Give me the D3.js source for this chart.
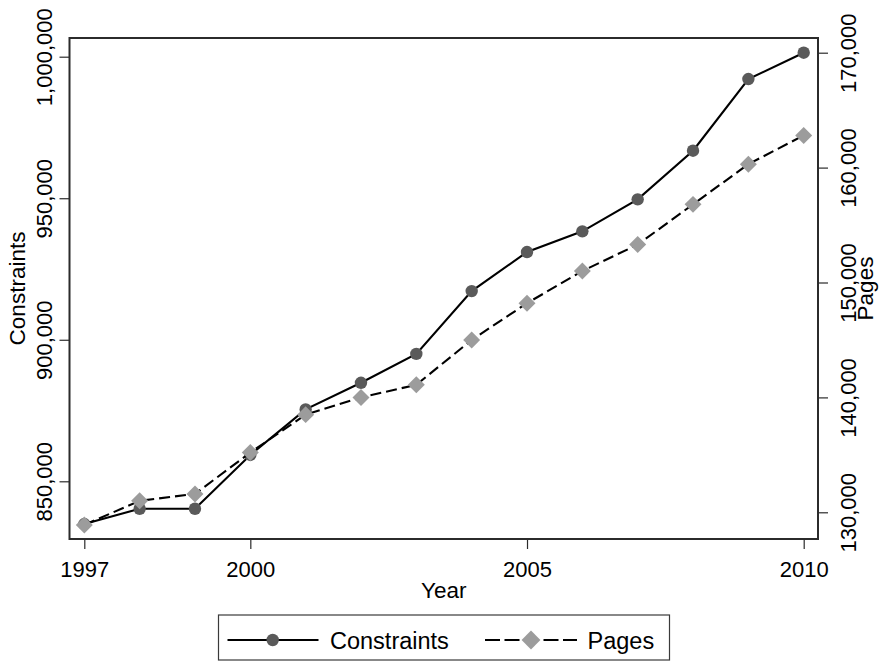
<!DOCTYPE html>
<html>
<head>
<meta charset="utf-8">
<script src="https://cdn.jsdelivr.net/npm/d3@7"></script>
<style>
  html, body { margin: 0; padding: 0; background: #fff; }
  svg { display: block; font-family: "Liberation Sans", Arial, Helvetica, sans-serif; }
</style>
</head>
<body>
<svg id="chart" width="879" height="662"></svg>
<script>
// ---- data ----
const years = [1997, 1998, 1999, 2000, 2001, 2002, 2003, 2004, 2005, 2006, 2007, 2008, 2009, 2010];
const constraints = [834900, 840300, 840300, 859300, 875400, 884800, 895000, 917200, 931000, 938300, 949600, 966800, 992100, 1001400];
const pages = [128900, 131000, 131600, 135200, 138500, 140000, 141100, 145000, 148200, 151000, 153300, 156800, 160300, 162800];
const xTicks = [1997, 2000, 2005, 2010];
const leftTicks = [850000, 900000, 950000, 1000000];
const rightTicks = [130000, 140000, 150000, 160000, 170000];
const seriesNames = ["Constraints", "Pages"];

// ---- layout ----
const frame = { left: 69.5, right: 818, top: 38, bottom: 539 };
const svg = d3.select("#chart");

const x = d3.scaleLinear().domain([1997, 2010]).range([84.3, 803.7]);
const yL = d3.scaleLinear().domain([850000, 1000000]).range([481.3, 56.7]);
const yR = d3.scaleLinear().domain([130000, 170000]).range([512.3, 52.7]);

const fmt = d3.format(",");
const circleColor = "#5a5a5a";
const diamondColor = "#9c9c9c";

// frame
svg.append("rect")
  .attr("x", frame.left).attr("y", frame.top)
  .attr("width", frame.right - frame.left).attr("height", frame.bottom - frame.top)
  .attr("fill", "#fff").attr("stroke", "#2b2b2b").attr("stroke-width", 2);

// left axis
const gL = svg.append("g").attr("transform", `translate(${frame.left},0)`)
  .call(d3.axisLeft(yL).tickValues(leftTicks).tickSize(10).tickFormat(fmt));
gL.select(".domain").remove();
gL.selectAll(".tick line").attr("stroke", "#2b2b2b").attr("stroke-width", 1.2);
gL.selectAll(".tick text")
  .attr("font-size", 22).attr("fill", "#000")
  .attr("text-anchor", "middle")
  .attr("x", null).attr("dy", null)
  .attr("transform", `translate(${52 - frame.left},0) rotate(-90)`)
  .attr("y", 0);

// right axis
const gR = svg.append("g").attr("transform", `translate(${frame.right},0)`)
  .call(d3.axisRight(yR).tickValues(rightTicks).tickSize(10).tickFormat(fmt));
gR.select(".domain").remove();
gR.selectAll(".tick line").attr("stroke", "#2b2b2b").attr("stroke-width", 1.2);
gR.selectAll(".tick text")
  .attr("font-size", 22).attr("fill", "#000")
  .attr("text-anchor", "middle")
  .attr("x", null).attr("dy", null)
  .attr("transform", `translate(${856 - frame.right},0) rotate(-90)`)
  .attr("y", 0);

// bottom axis
const gB = svg.append("g").attr("transform", `translate(0,${frame.bottom})`)
  .call(d3.axisBottom(x).tickValues(xTicks).tickSize(10).tickFormat(d3.format("d")));
gB.select(".domain").remove();
gB.selectAll(".tick line").attr("stroke", "#2b2b2b").attr("stroke-width", 1.2);
gB.selectAll(".tick text")
  .attr("font-size", 22).attr("fill", "#000")
  .attr("dy", null).attr("y", 577 - frame.bottom);

// axis titles
svg.append("text").text("Year")
  .attr("x", (frame.left + frame.right) / 2).attr("y", 598)
  .attr("text-anchor", "middle").attr("font-size", 22.5);
svg.append("text").text("Constraints")
  .attr("transform", `translate(24.5,${(frame.top + frame.bottom) / 2}) rotate(-90)`)
  .attr("text-anchor", "middle").attr("font-size", 22.5);
svg.append("text").text("Pages")
  .attr("transform", `translate(873,${(frame.top + frame.bottom) / 2}) rotate(-90)`)
  .attr("text-anchor", "middle").attr("font-size", 22.5);

// series
const dataC = years.map((yr, i) => ({ yr, v: constraints[i] }));
const dataP = years.map((yr, i) => ({ yr, v: pages[i] }));

const lineC = d3.line().x(d => x(d.yr)).y(d => yL(d.v));
const lineP = d3.line().x(d => x(d.yr)).y(d => yR(d.v));

svg.append("path").datum(dataC).attr("d", lineC)
  .attr("fill", "none").attr("stroke", "#000").attr("stroke-width", 2.1);
svg.append("g").selectAll("circle").data(dataC).join("circle")
  .attr("cx", d => x(d.yr)).attr("cy", d => yL(d.v)).attr("r", 6.2)
  .attr("fill", circleColor);

const diamond = d3.symbol().type(d3.symbolSquare).size(144);
svg.append("path").datum(dataP).attr("d", lineP)
  .attr("fill", "none").attr("stroke", "#000").attr("stroke-width", 2.1)
  .attr("stroke-dasharray", "11,5");
svg.append("g").selectAll("path").data(dataP).join("path")
  .attr("d", diamond)
  .attr("transform", d => `translate(${x(d.yr)},${yR(d.v)}) rotate(45)`)
  .attr("fill", diamondColor);

// legend
const lg = svg.append("g");
lg.append("rect").attr("x", 218.5).attr("y", 615).attr("width", 451).attr("height", 45)
  .attr("fill", "#fff").attr("stroke", "#3a3a3a").attr("stroke-width", 1.2);
const ly = 640;
lg.append("line").attr("x1", 227.5).attr("x2", 318.5).attr("y1", ly).attr("y2", ly)
  .attr("stroke", "#000").attr("stroke-width", 2.1);
lg.append("circle").attr("cx", 272.7).attr("cy", ly).attr("r", 6.2).attr("fill", circleColor);
lg.append("text").text(seriesNames[0]).attr("x", 330).attr("y", ly + 8.5)
  .attr("font-size", 23.5);
lg.append("line").attr("x1", 485).attr("x2", 577).attr("y1", ly).attr("y2", ly)
  .attr("stroke", "#000").attr("stroke-width", 2.1).attr("stroke-dasharray", "15,4.5");
lg.append("path").attr("d", d3.symbol().type(d3.symbolSquare).size(178))
  .attr("transform", `translate(531,${ly}) rotate(45)`).attr("fill", diamondColor);
lg.append("text").text(seriesNames[1]).attr("x", 587.5).attr("y", ly + 8.5)
  .attr("font-size", 23.5);
</script>
</body>
</html>
